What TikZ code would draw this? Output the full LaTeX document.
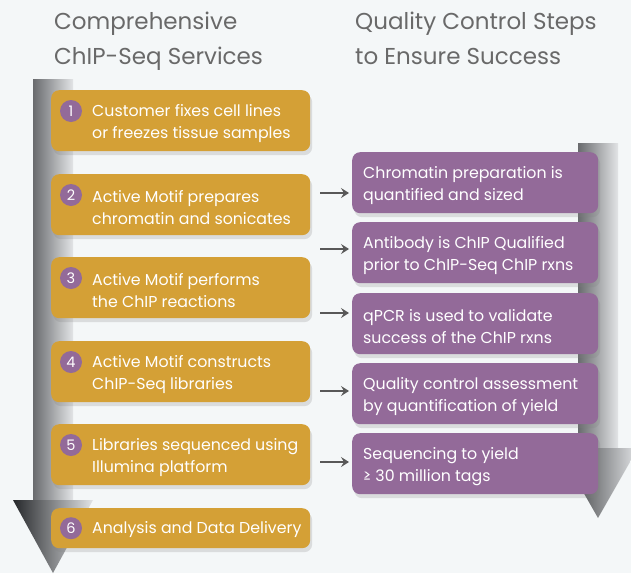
\documentclass[tikz,border=0pt]{standalone}
\usepackage{fontspec}
\setmainfont{Poppins}
\usepackage{tikz}
\usetikzlibrary{arrows.meta,calc,shadows}

\definecolor{stepgold}{RGB}{212,160,54}
\definecolor{qcpurple}{RGB}{147,106,153}
\definecolor{pagebg}{RGB}{244,247,248}
\definecolor{headgray}{RGB}{105,105,105}
\definecolor{linkgray}{RGB}{88,88,88}
\definecolor{shaftdark}{RGB}{105,107,110}
\definecolor{shaftlight}{RGB}{226,228,230}
\definecolor{tipdark}{RGB}{38,40,43}

\begin{document}
\begin{tikzpicture}[
    x=1pt,y=-1pt,
    stepbox/.style={fill=stepgold,rounded corners=8pt,minimum width=259pt,minimum height=61pt,anchor=north west,inner sep=0pt,
        drop shadow={shadow xshift=2pt,shadow yshift=-4pt,opacity=0.22}},
    qcbox/.style={fill=qcpurple,rounded corners=8pt,minimum width=246pt,minimum height=61pt,anchor=north west,inner sep=0pt,
        drop shadow={shadow xshift=2pt,shadow yshift=-4pt,opacity=0.22}},
    boxtext/.style={anchor=west,align=left,text=white,inner sep=0pt,font=\fontsize{15.8}{22}\selectfont},
    badge/.style={circle,fill=qcpurple,minimum size=22pt,inner sep=0pt,text=white,font=\fontsize{14.5}{15}\selectfont},
    link/.style={-{Stealth[length=8pt,width=10pt,inset=3pt]},line width=1.3pt,linkgray,shorten >=3pt},
    title/.style={anchor=north west,align=left,text=headgray,inner sep=0pt,font=\fontsize{23}{35}\selectfont}
]
\useasboundingbox (0,0) rectangle (631,573);
\clip (0,0) rectangle (631,573);
\fill[pagebg] (0,0) rectangle (631,573);

% the two big arrows behind the boxes
\shade[left color=shaftdark,right color=shaftlight] (33,79) rectangle (73,500);
\shade[left color=tipdark,right color=shaftlight] (13,500) -- (93,500) -- (53,573) -- cycle;
\shade[left color=shaftdark,right color=shaftlight] (578,143) rectangle (618,448);
\shade[left color=tipdark,right color=shaftlight] (558,448) -- (638,448) -- (598,518) -- cycle;

\node[title] (hl) at (54,12) {Comprehensive\\ChIP-Seq Services};
\node[title] (hr) at (355,12) {Quality Control Steps\\to Ensure Success};

% service steps
\node[stepbox] (o1) at (51,90) {};
\node[stepbox] (o2) at (51,174) {};
\node[stepbox] (o3) at (51,257) {};
\node[stepbox] (o4) at (51,341) {};
\node[stepbox] (o5) at (51,424) {};
\node[stepbox,minimum height=40pt] (o6) at (51,508) {};

\node[badge] (b1) at ($(o1.north west)+(20,21)$) {1};
\node[badge] (b2) at ($(o2.north west)+(20,21)$) {2};
\node[badge] (b3) at ($(o3.north west)+(20,21)$) {3};
\node[badge] (b4) at ($(o4.north west)+(20,21)$) {4};
\node[badge] (b5) at ($(o5.north west)+(20,21)$) {5};
\node[badge] (b6) at ($(o6.west)+(20,0)$) {6};

\node[boxtext] (t1) at ($(o1.west)+(41,3)$) {Customer fixes cell lines\\or freezes tissue samples};
\node[boxtext] (t2) at ($(o2.west)+(41,3)$) {Active Motif prepares\\chromatin and sonicates};
\node[boxtext] (t3) at ($(o3.west)+(41,3)$) {Active Motif performs\\the ChIP reactions};
\node[boxtext] (t4) at ($(o4.west)+(41,3)$) {Active Motif constructs\\ChIP-Seq libraries};
\node[boxtext] (t5) at ($(o5.west)+(41,3)$) {Libraries sequenced using\\Illumina platform};
\node[boxtext] (t6) at ($(o6.west)+(41,1)$) {Analysis and Data Delivery};

% quality control
\node[qcbox] (q1) at (352,152) {};
\node[qcbox] (q2) at (352,222) {};
\node[qcbox] (q3) at (352,293) {};
\node[qcbox] (q4) at (352,363) {};
\node[qcbox] (q5) at (352,433) {};

\node[boxtext] (u1) at ($(q1.west)+(11,2.5)$) {Chromatin preparation is\\quantified and sized};
\node[boxtext] (u2) at ($(q2.west)+(11,2.5)$) {Antibody is ChIP Qualified\\prior to ChIP-Seq ChIP rxns};
\node[boxtext] (u3) at ($(q3.west)+(11,2.5)$) {qPCR is used to validate\\success of the ChIP rxns};
\node[boxtext] (u4) at ($(q4.west)+(11,2.5)$) {Quality control assessment\\by quantification of yield};
\node[boxtext] (u5) at ($(q5.west)+(11,2.5)$) {Sequencing to yield\\≥ 30 million tags};

\coordinate (a1) at (320,193);
\coordinate (a2) at (320,249);
\coordinate (a3) at (320,313);
\coordinate (a4) at (320,391);
\coordinate (a5) at (320,462);
\draw[link] (a1) -- (a1 -| q1.west);
\draw[link] (a2) -- (a2 -| q2.west);
\draw[link] (a3) -- (a3 -| q3.west);
\draw[link] (a4) -- (a4 -| q4.west);
\draw[link] (a5) -- (a5 -| q5.west);
\end{tikzpicture}
\end{document}
